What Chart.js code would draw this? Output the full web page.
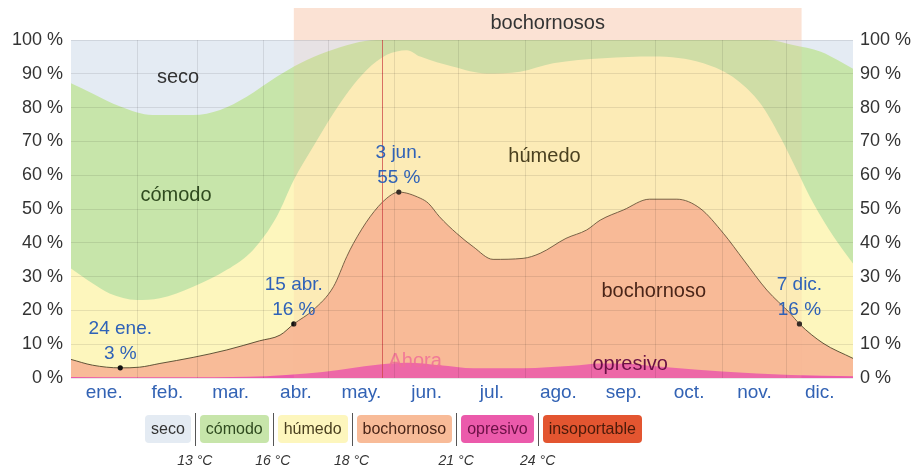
<!DOCTYPE html>
<html>
<head>
<meta charset="utf-8">
<script src="https://cdn.jsdelivr.net/npm/chart.js@4/dist/chart.umd.min.js"></script>
<style>
  html, body { margin: 0; padding: 0; background: #fff; }
  #wrap { position: relative; width: 920px; height: 468px; font-family: "Liberation Sans", Arial, sans-serif; }
  #chart { position: absolute; left: 0; top: 0; }
  #legend { position: absolute; left: 145px; top: 415px; height: 28px; display: flex; align-items: center; }
  .key { height: 28px; line-height: 28px; padding: 0 6px; border-radius: 4px; font-size: 16px; color: #222; white-space: nowrap; }
  .sep { position: relative; width: 1px; height: 33px; background: #555; margin: 0 4px; }
  .sep span { position: absolute; top: 39px; left: 0; transform: translateX(-50%); white-space: nowrap;
              font-style: italic; font-size: 14px; color: #333; line-height: 16px; }
</style>
</head>
<body>
<div id="wrap">
  <canvas id="chart" width="920" height="468" style="width:920px;height:468px"></canvas>
  <div id="legend"></div>
</div>
<script>
// Month axis
const monthNames = ['ene.', 'feb.', 'mar.', 'abr.', 'may.', 'jun.', 'jul.', 'ago.', 'sep.', 'oct.', 'nov.', 'dic.'];
const monthStarts = [0, 31, 59, 90, 120, 151, 181, 212, 243, 273, 304, 334];

// Cumulative share of time (%) at or below each comfort level, by day of year
const opresivoDays = [0, 31, 59, 91, 110, 125, 141, 157, 172, 188, 211, 234, 247, 260, 270, 281, 304, 336, 365];
const opresivoPct  = [0.3, 0.2, 0.2, 0.5, 1.3, 2.4, 3.8, 4.5, 3.8, 2.9, 2.9, 3.6, 4.3, 4.2, 3.6, 3.0, 1.9, 0.9, 0.5];

const muggyDays = [0, 10, 23, 32, 41.5, 57, 72.7, 88, 97.6, 104, 113, 122.5, 128.7, 131.8, 139.6, 147.4, 153, 163, 166.8, 172,
                   180, 187.8, 197, 211, 219, 231, 240.7, 247, 257.8, 270, 282.8, 293.6, 304.5, 314, 324.8, 335.7, 340, 351, 365];
const muggyPct  = [5.5, 3.8, 3.0, 3.2, 4.3, 6.1, 8.3, 11.0, 12.7, 16, 20.1, 27, 35.9, 39.8, 47.7, 53.2, 55, 53.2, 51.7, 47.7,
                   42.8, 38.8, 35.1, 35.4, 36.9, 41.3, 43.8, 46.7, 49.7, 52.9, 52.9, 50.2, 42.8, 34.9, 26, 19.1, 16, 10.3, 5.8];

const humidDays = [0, 10, 18, 30.7, 41.5, 57, 72.7, 85, 96, 104, 113, 122.5, 130, 138, 147.4, 156.7, 163, 178.5, 194, 209.6,
                   225, 248.5, 271.8, 295.2, 310.8, 321.7, 331, 338.8, 346.5, 356, 365];
const humidPct  = [32.4, 28, 25, 23.1, 23.6, 27, 32, 37.9, 47.7, 58.6, 68.4, 78.3, 85.2, 91.1, 95.6, 97, 95.1, 92.1, 90.1, 90.6,
                   93.1, 94.6, 95.1, 93.1, 88.2, 81.3, 71.4, 61.5, 51.7, 41.8, 33.9];

const comfortDays = [0, 10, 23, 38, 57, 69.6, 82, 96, 107, 119.4, 131.8, 142.7, 325, 337, 350, 358, 365];
const comfortPct  = [87.2, 84.2, 80.3, 77.8, 77.8, 79.3, 83.2, 89.1, 93.1, 96.5, 99, 100, 100, 98.5, 96.5, 94, 91.5];

const dryDays = [0, 365];
const dryPct  = [100, 100];

// Highlighted points on the muggy curve
const markDays   = [23, 104, 153, 340];
const markPct    = [3, 16, 55, 16];
const markDates  = ['24 ene.', '15 abr.', '3 jun.', '7 dic.'];

// Muggy season and current day
const seasonName  = 'bochornosos';
const seasonStart = 104;
const seasonEnd   = 341;
const todayDay    = 145;
const todayLabel  = 'Ahora';

// Legend
const bandNames  = ['seco', 'cómodo', 'húmedo', 'bochornoso', 'opresivo', 'insoportable'];
const tempLimits = ['13 °C', '16 °C', '18 °C', '21 °C', '24 °C'];

const fills = {
  seco: '#e4ebf3', 'cómodo': '#c7e5aa', 'húmedo': '#fdf6bd',
  bochornoso: '#f8bb98', opresivo: '#eb5aab', insoportable: '#e35530'
};
const textColors = {
  seco: '#333', 'cómodo': '#2f4a1f', 'húmedo': '#4a4020',
  bochornoso: '#4a2518', opresivo: '#6b1045', insoportable: '#4a1a0a'
};
// In-plot band captions (day, percent)
const bandLabelPos = {
  seco: [50, 88.8], 'cómodo': [49, 54.1], 'húmedo': [221, 65.4], bochornoso: [272, 25.7], opresivo: [261, 4.1]
};

const FONT = '"Liberation Sans", Arial, sans-serif';
const pts = (xs, ys) => xs.map((x, i) => ({ x, y: ys[i] }));

function band(name, xs, ys, extra) {
  return Object.assign({
    label: name, data: pts(xs, ys), fill: 'origin', backgroundColor: fills[name],
    borderWidth: 0, pointRadius: 0, cubicInterpolationMode: 'monotone', xAxisID: 'x', yAxisID: 'y'
  }, extra || {});
}

const extras = {
  id: 'extras',
  afterDatasetsDraw(chart) {
    const { ctx, chartArea: a, scales } = chart;
    const xs = scales.x, ys = scales.y;
    const x0 = xs.getPixelForValue(seasonStart), x1 = xs.getPixelForValue(seasonEnd);
    ctx.save();
    // season tint over the plot and its header bar
    ctx.fillStyle = 'rgba(250,180,150,0.16)';
    ctx.fillRect(x0, a.top, x1 - x0, a.bottom - a.top);
    ctx.fillStyle = '#fbe2d4';
    ctx.fillRect(x0, 8, x1 - x0, a.top - 8);
    ctx.fillStyle = '#333';
    ctx.font = '20px ' + FONT;
    ctx.textAlign = 'center';
    ctx.textBaseline = 'middle';
    ctx.fillText(seasonName, (x0 + x1) / 2, 23);

    // band captions
    for (const [name, [d, p]] of Object.entries(bandLabelPos)) {
      ctx.fillStyle = textColors[name];
      ctx.fillText(name, xs.getPixelForValue(d), ys.getPixelForValue(p));
    }

    // current day
    const tx = Math.round(xs.getPixelForValue(todayDay)) + 0.5;
    ctx.strokeStyle = 'rgba(205,70,70,0.75)';
    ctx.lineWidth = 1;
    ctx.beginPath();
    ctx.moveTo(tx, a.top);
    ctx.lineTo(tx, a.bottom);
    ctx.stroke();
    ctx.fillStyle = 'rgba(240,110,150,0.85)';
    ctx.textAlign = 'left';
    ctx.fillText(todayLabel, tx + 6, a.bottom - 17);

    // marker captions
    ctx.font = '19px ' + FONT;
    ctx.textAlign = 'center';
    ctx.fillStyle = '#2f62b8';
    markDays.forEach((d, i) => {
      const px = xs.getPixelForValue(d), py = ys.getPixelForValue(markPct[i]);
      ctx.fillText(markDates[i], px, py - 39);
      ctx.fillText(markPct[i] + ' %', px, py - 14);
    });
    ctx.restore();
  }
};

const gridColor = 'rgba(0,0,0,0.09)';
const tickFont = { family: FONT, size: 18 };

new Chart(document.getElementById('chart'), {
  type: 'line',
  data: {
    datasets: [
      {
        type: 'scatter', label: 'marks', data: pts(markDays, markPct), pointRadius: 2.6,
        pointBackgroundColor: '#111', pointBorderWidth: 0, showLine: false, xAxisID: 'x', yAxisID: 'y'
      },
      band('opresivo', opresivoDays, opresivoPct),
      band('bochornoso', muggyDays, muggyPct, { borderWidth: 1, borderColor: 'rgba(70,60,35,0.85)' }),
      band('húmedo', humidDays, humidPct),
      band('cómodo', comfortDays, comfortPct),
      band('seco', dryDays, dryPct)
    ]
  },
  options: {
    responsive: false,
    animation: false,
    events: [],
    layout: { padding: { top: 40, left: 0, right: 0, bottom: 0 } },
    plugins: { legend: { display: false }, tooltip: { enabled: false } },
    scales: {
      x: {
        type: 'linear', min: 0, max: 365, position: 'bottom',
        afterBuildTicks: s => { s.ticks = monthStarts.map((m, i) => ({ value: (m + (monthStarts[i + 1] ?? 365)) / 2 })); },
        afterFit: s => { s.height = 90; },
        ticks: { autoSkip: false, maxRotation: 0, padding: 3, color: '#3262b4', font: { family: FONT, size: 19 },
                 callback: (v, i) => monthNames[i] },
        grid: { display: false, drawTicks: false },
        border: { display: false }
      },
      xg: {
        type: 'linear', min: 0, max: 365, position: 'bottom',
        afterBuildTicks: s => { s.ticks = monthStarts.slice(1).map(m => ({ value: m })); },
        afterFit: s => { s.height = 0; },
        ticks: { display: false },
        grid: { color: gridColor, drawTicks: false, z: 1 },
        border: { display: false }
      },
      y: {
        min: 0, max: 100, position: 'left',
        afterFit: s => { s.width = 71; },
        ticks: { stepSize: 10, padding: 8, color: '#333', font: tickFont, callback: v => v + ' %' },
        grid: { color: gridColor, drawTicks: false, z: 1 },
        border: { display: false }
      },
      y2: {
        min: 0, max: 100, position: 'right',
        afterFit: s => { s.width = 67; },
        ticks: { stepSize: 10, padding: 7, color: '#333', font: tickFont, callback: v => v + ' %' },
        grid: { display: false, drawTicks: false },
        border: { display: false }
      }
    }
  },
  plugins: [extras]
});

// Legend row with temperature thresholds between the levels
const legend = document.getElementById('legend');
bandNames.forEach((name, i) => {
  if (i > 0) {
    const sep = document.createElement('div');
    sep.className = 'sep';
    const t = document.createElement('span');
    t.textContent = tempLimits[i - 1];
    sep.appendChild(t);
    legend.appendChild(sep);
  }
  const key = document.createElement('div');
  key.className = 'key';
  key.textContent = name;
  key.style.background = fills[name];
  key.style.color = textColors[name];
  legend.appendChild(key);
});
</script>
</body>
</html>
